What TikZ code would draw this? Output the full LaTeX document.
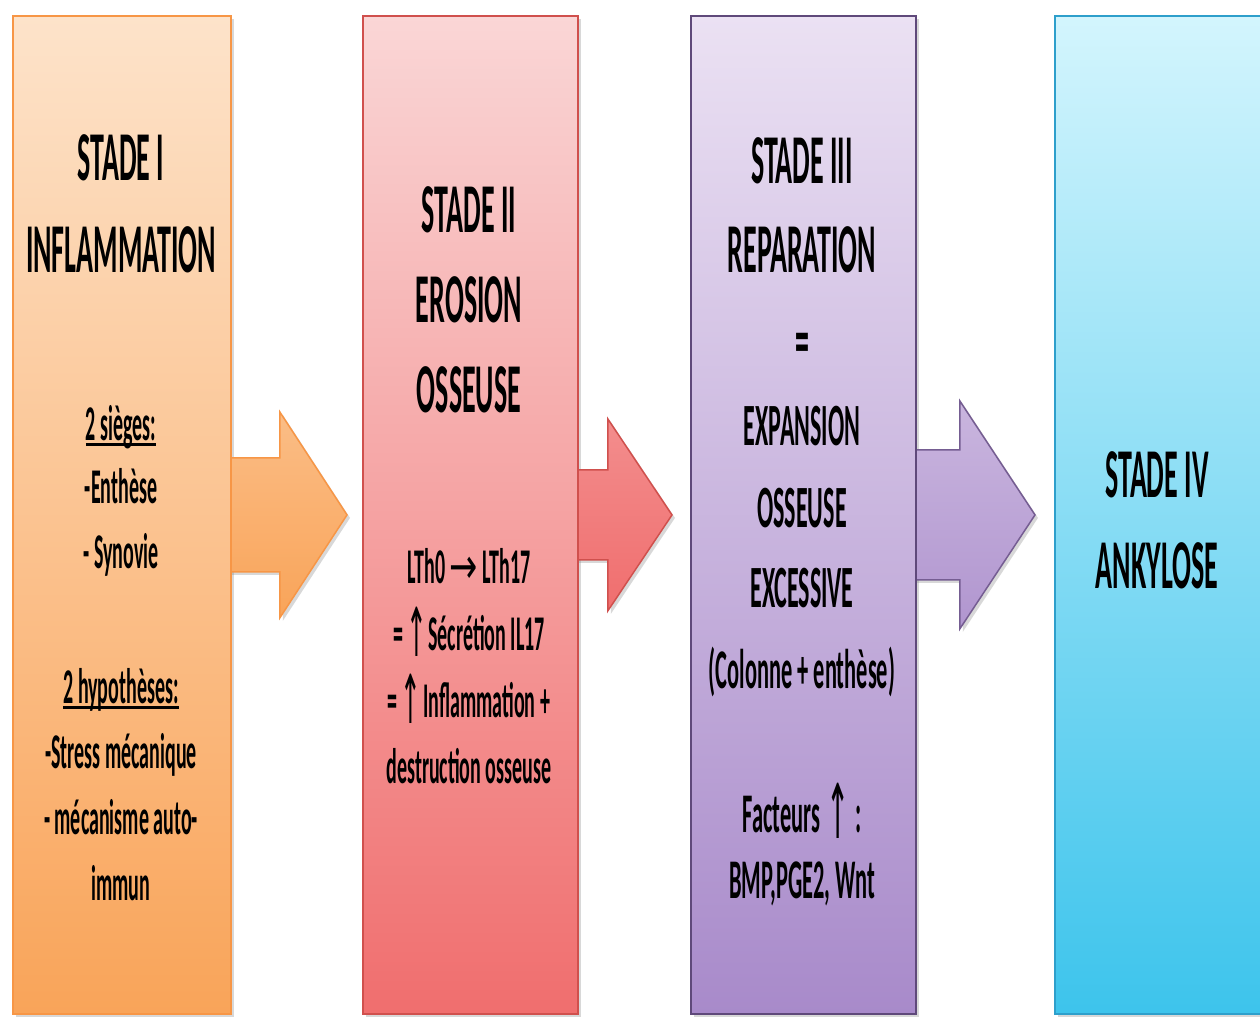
\documentclass[tikz,border=0pt]{standalone}
\usepackage{fontspec}
\usepackage{graphicx}
\setmainfont{Carlito}[FakeStretch=0.4]
\newfontfamily\arrfont{DejaVu Sans}[FakeStretch=0.45]
\usetikzlibrary{shadows,calc}
\definecolor{oT}{HTML}{FDE3CA}\definecolor{oB}{HTML}{F9A459}\definecolor{oL}{HTML}{F79646}
\definecolor{rT}{HTML}{FAD6D6}\definecolor{rB}{HTML}{F06E6E}\definecolor{rL}{HTML}{D0504D}
\definecolor{pT}{HTML}{EBE1F3}\definecolor{pB}{HTML}{A88ACA}\definecolor{pL}{HTML}{5F497A}
\definecolor{cT}{HTML}{D3F5FD}\definecolor{cB}{HTML}{3DC4EC}\definecolor{cL}{HTML}{2E9FCB}
\newcommand{\myul}[1]{\setbox0\hbox{#1}\rlap{\rule[-6pt]{\wd0}{2.6pt}}\box0}
\newcommand{\up}{\kern-0.06em\raisebox{-0.12em}{\scalebox{1.1}[1.35]{\arrfont\mdseries ↑}}\kern-0.06em}
\newcommand{\ra}{\scalebox{1.5}[1]{\arrfont\mdseries →}}
\tikzset{
  stagebox/.style={draw, line width=1.8pt, anchor=north west, inner sep=0pt,
    drop shadow={shadow xshift=3pt, shadow yshift=-3pt, opacity=0.3, fill=gray}},
  blockarrow/.style={line width=1.5pt, line join=miter,
    drop shadow={shadow xshift=3pt, shadow yshift=-3pt, opacity=0.3, fill=gray}},
  bigtxt/.style={anchor=base, inner sep=0pt, font=\bfseries\fontsize{70}{70}\selectfont},
  midtxt/.style={anchor=base, inner sep=0pt, font=\bfseries\fontsize{60}{60}\selectfont},
  smalltxt/.style={anchor=base, inner sep=0pt, font=\bfseries\fontsize{50}{50}\selectfont},
  smalltxtb/.style={anchor=base, inner sep=0pt, font=\bfseries\fontsize{56}{56}\selectfont},
}
\begin{document}
\begin{tikzpicture}[x=1pt,y=1pt]
\useasboundingbox (0,0) rectangle (1260,-1018);
\fill[white] (0,0) rectangle (1260,-1018);
% box nodes (geometry only)
\path node[stagebox, draw=oL, top color=oT, bottom color=oB, minimum width=218pt, minimum height=998pt] (b1) at (12,-15) {}
      node[stagebox, draw=rL, top color=rT, bottom color=rB, minimum width=215pt, minimum height=998pt] (b2) at (362,-15) {}
      node[stagebox, draw=pL, top color=pT, bottom color=pB, minimum width=225pt, minimum height=998pt] (b3) at (690,-15) {}
      node[stagebox, draw=cL, top color=cT, bottom color=cB, minimum width=230pt, minimum height=998pt] (b4) at (1054,-15) {};
% arrows (drawn, then boxes redrawn on top)
\draw[blockarrow, draw=oL, top color=oT!40!oB, bottom color=oB]
  ($(b1.east)+(-4,57)$) -- ($(b1.east)+(48,57)$) -- ($(b1.east)+(48,103)$) -- ($(b2.west)+(-15,0)$)
  -- ($(b1.east)+(48,-103)$) -- ($(b1.east)+(48,-57)$) -- ($(b1.east)+(-4,-57)$) -- cycle;
\draw[blockarrow, draw=rL, top color=rT!30!rB, bottom color=rB]
  ($(b2.east)+(-4,45)$) -- ($(b2.east)+(29,45)$) -- ($(b2.east)+(29,96)$) -- ($(b3.west)+(-18,0)$)
  -- ($(b2.east)+(29,-96)$) -- ($(b2.east)+(29,-45)$) -- ($(b2.east)+(-4,-45)$) -- cycle;
\draw[blockarrow, draw=pL!70!pB, top color=pT!50!pB, bottom color=pB!90]
  ($(b3.east)+(-4,65)$) -- ($(b3.east)+(43,65)$) -- ($(b3.east)+(43,114)$) -- ($(b4.west)+(-19,0)$)
  -- ($(b3.east)+(43,-114)$) -- ($(b3.east)+(43,-65)$) -- ($(b3.east)+(-4,-65)$) -- cycle;
% boxes on top of arrow tails
\path node[draw=oL, line width=1.8pt, anchor=north west, inner sep=0pt, top color=oT, bottom color=oB, minimum width=218pt, minimum height=998pt] (b1f) at (12,-15) {}
      node[draw=rL, line width=1.8pt, anchor=north west, inner sep=0pt, top color=rT, bottom color=rB, minimum width=215pt, minimum height=998pt] (b2f) at (362,-15) {}
      node[draw=pL, line width=1.8pt, anchor=north west, inner sep=0pt, top color=pT, bottom color=pB, minimum width=225pt, minimum height=998pt] (b3f) at (690,-15) {};
% column 1
\node[bigtxt] (s1a) at (121,-180) {STADE I};
\node[bigtxt] (s1b) at (121,-272) {INFLAMMATION};
\node[smalltxt] (s1c) at (121,-440) {\myul{2 sièges:}};
\node[smalltxt] (s1d) at (121,-503) {-Enthèse};
\node[smalltxt] (s1e) at (121,-568) {- Synovie};
\node[smalltxt] (s1f) at (121,-703) {\myul{2 hypothèses:}};
\node[smalltxt] (s1g) at (121,-768) {-Stress mécanique};
\node[smalltxt] (s1h) at (121,-834) {- mécanisme auto-};
\node[smalltxt] (s1i) at (121,-900) {immun};
% column 2
\node[bigtxt] (s2a) at (469,-232) {STADE II};
\node[bigtxt] (s2b) at (469,-322) {EROSION};
\node[bigtxt] (s2c) at (469,-412) {OSSEUSE};
\node[smalltxt] (s2d) at (469,-583) {LTh0 \ra\ LTh17};
\node[smalltxt] (s2e) at (469,-650) {=\kern0.12em\up\ Sécrétion IL17};
\node[smalltxt] (s2f) at (469,-717) {=\kern0.12em\up\ Inflammation +};
\node[smalltxt] (s2g) at (469,-783) {destruction osseuse};
% column 3
\node[bigtxt] (s3a) at (802,-183) {STADE III};
\node[bigtxt] (s3b) at (802,-272) {REPARATION};
\node[bigtxt] (s3c) at (802,-364) {=};
\node[midtxt] (s3d) at (802,-445) {EXPANSION};
\node[midtxt] (s3e) at (802,-527) {OSSEUSE};
\node[midtxt] (s3f) at (802,-607) {EXCESSIVE};
\node[smalltxtb] (s3g) at (802,-688) {(Colonne + enthèse)};
\node[smalltxtb] (s3h) at (802,-832) {Facteurs\,\up\,:};
\node[smalltxtb] (s3i) at (802,-898) {BMP,PGE2, Wnt};
% column 4
\node[bigtxt] (s4a) at (1157,-497) {STADE IV};
\node[bigtxt] (s4b) at (1157,-588) {ANKYLOSE};
\end{tikzpicture}
\end{document}
